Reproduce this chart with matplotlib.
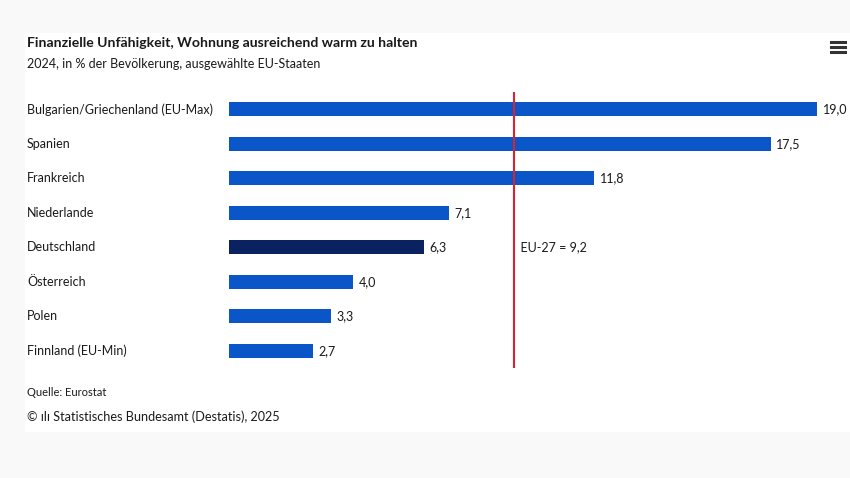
import matplotlib
matplotlib.use("Agg")
import matplotlib.pyplot as plt
import matplotlib.transforms as mtransforms
from matplotlib.patches import Rectangle
from matplotlib.lines import Line2D

countries = ["Bulgarien/Griechenland (EU-Max)", "Spanien", "Frankreich", "Niederlande",
             "Deutschland", "Österreich", "Polen", "Finnland (EU-Min)"]
values = [19.0, 17.5, 11.8, 7.1, 6.3, 4.0, 3.3, 2.7]
eu_avg = 9.2

blue = "#0a56c9"
navy = "#0b2261"
red = "#d9232e"
txt = "#1a1a1a"

plt.rcParams['font.family'] = ['Lato', 'DejaVu Sans']

fig = plt.figure(figsize=(8.5, 4.78), dpi=100, facecolor="#f9f9f9")
fig.patches.append(Rectangle((25/850, 1-432/478), 825/850, 399/478, transform=fig.transFigure,
                             facecolor="white", edgecolor="none", zorder=-5))

ax = fig.add_axes([229/850, 1-368/478, 588/850, 276/478])
ax.set_facecolor("none")
colors = [navy if c == "Deutschland" else blue for c in countries]
ypos = list(range(len(countries)))
ax.barh(ypos, values, height=0.4, color=colors)
ax.set_xlim(0, 19)
ax.set_ylim(7.5, -0.5)
ax.axis("off")

for y, v in zip(ypos, values):
    ax.annotate(f"{v:.1f}".replace(".", ","), (v, y), xytext=(4, 0), textcoords="offset points",
                va="center", ha="left", fontsize=9, color=txt, annotation_clip=False)

trans = mtransforms.blended_transform_factory(fig.transFigure, ax.transData)
for y, c in zip(ypos, countries):
    ax.text(27/850, y, c, transform=trans, va="center", ha="left", fontsize=9, color=txt)

ax.axvline(eu_avg, color=red, lw=1.5)
ax.text(eu_avg, 4, "  EU-27 = " + f"{eu_avg:.1f}".replace(".", ","), va="center", ha="left",
        fontsize=9, color=txt)

fig.text(27/850, 1-43/478, "Finanzielle Unfähigkeit, Wohnung ausreichend warm zu halten",
         fontsize=10.1, fontweight="bold", color=txt, va="center")
fig.text(27/850, 1-64/478, "2024, in % der Bevölkerung, ausgewählte EU-Staaten",
         fontsize=9, color=txt, va="center")
fig.text(27/850, 1-393/478, "Quelle: Eurostat", fontsize=8, color=txt, va="center")
fig.text(27/850, 1-417/478, "© ılı Statistisches Bundesamt (Destatis), 2025", fontsize=9.1,
         color=txt, va="center")

# menu icon
for yy in (42, 47, 52):
    fig.lines.append(Line2D([831/850, 845/850], [1-yy/478, 1-yy/478], transform=fig.transFigure,
                            color="#333333", lw=2.2))

fig.savefig("out.png", dpi=100, facecolor=fig.get_facecolor())
